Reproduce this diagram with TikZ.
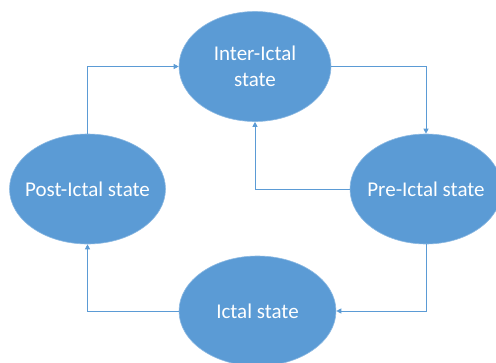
\documentclass[tikz,border=0pt]{standalone}
\usepackage{fontspec}
\setmainfont{Carlito}
\usetikzlibrary{shapes.geometric,arrows.meta}
\definecolor{stblue}{HTML}{5B9BD5}
\tikzset{
  state/.style={ellipse, fill=stblue, draw=stblue!70!white, line width=0.6pt, inner sep=0pt,
    minimum width=#1, minimum height=110pt},
  state/.default=152pt,
  stext/.style={text=white, font=\fontsize{21}{25.5}\selectfont, align=center},
  conn/.style={draw=stblue, line width=0.9pt, -{Triangle[length=5pt,width=5pt]}}
}
\begin{document}
\begin{tikzpicture}[x=1pt,y=-1pt]
\useasboundingbox (0,0) rectangle (496,362);
\node[state, label={[stext]center:Inter-Ictal\\state}] (inter) at (255,66.5) {};
\node[state, label={[stext]center:Pre-Ictal state}] (pre) at (426,189) {};
\node[state=156pt, label={[stext]center:Post-Ictal state}] (post) at (87.5,189) {};
\node[state=157pt, label={[stext]center:Ictal state}] (ictal) at (257.5,311) {};
\draw[conn] (post.north) |- (inter.west);
\draw[conn] (inter.east) -| (pre.north);
\draw[conn] (pre.west) -| (inter.south);
\draw[conn] (pre.south) |- (ictal.east);
\draw[conn] (ictal.west) -| (post.south);
\end{tikzpicture}
\end{document}
